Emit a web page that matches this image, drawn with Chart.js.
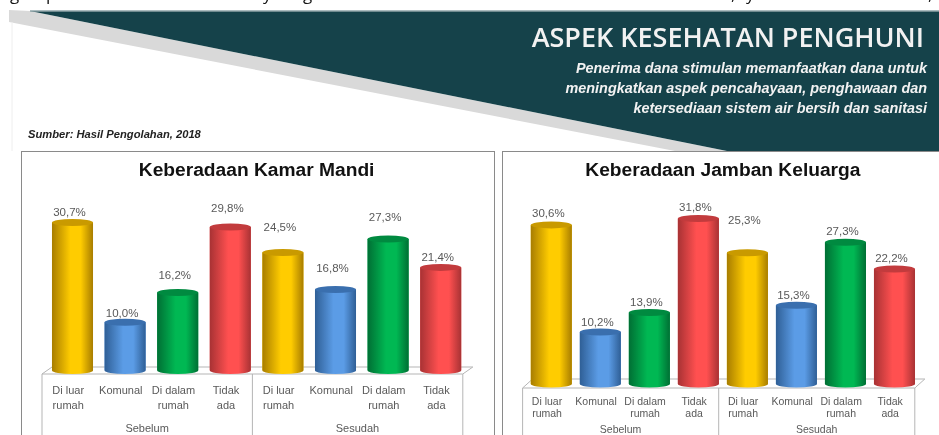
<!DOCTYPE html>
<html>
<head>
<meta charset="utf-8">
<title>Aspek Kesehatan Penghuni</title>
<script src="https://cdn.jsdelivr.net/npm/chart.js@4/dist/chart.umd.min.js"></script>
<style>
    html, body { margin: 0; padding: 0; background: #fff; overflow: hidden; }
    #page { position: relative; width: 939px; height: 435px; overflow: hidden; font-family: "Liberation Sans", Arial, sans-serif; filter: blur(0.35px); }
    #banner { position: absolute; left: 0; top: 0; }
    .cut { position: absolute; top: -18px; font: 17px "Open Sans", sans-serif; color: #111; }
    #heading { position: absolute; right: 15px; top: 18px; font: 600 27px "Open Sans", sans-serif; color: #f2f2f2; white-space: nowrap; }
    #lead { position: absolute; right: 12px; top: 58px; width: 420px; text-align: right; font: italic bold 14.4px/20px "Liberation Sans", sans-serif; color: #f2f2f2; }
    #source { position: absolute; left: 28px; top: 128px; font: italic bold 11.2px "Liberation Sans", sans-serif; color: #222; }
    .panel { position: absolute; top: 151px; height: 300px; box-sizing: border-box; border: 1.5px solid #8a8a8a; background: #fff; }
    canvas { position: absolute; display: block; }
</style>
</head>
<body>
<div id="page">
    <span class="cut" style="left:10px">g</span>
    <span class="cut" style="left:46px">p</span>
    <span class="cut" style="left:263px">y</span>
    <span class="cut" style="left:303px">g</span>
    <span class="cut" style="left:731px">,</span>
    <span class="cut" style="left:746px">y</span>
    <span class="cut" style="left:928px">,</span>

    <svg id="banner" width="939" height="152">
        <polygon points="9,10 30,11 727,151 675,151 9,22" fill="#d9d9d9"></polygon>
        <polygon points="30,11 939,11 939,151 727,151" fill="#15424a"></polygon>
        <line x1="30" y1="11" x2="939" y2="11" stroke="#8fa5a8" stroke-width="1.5"></line>
        <line x1="12" y1="22" x2="12" y2="151" stroke="#eeeeee"></line>
    </svg>
    <div id="heading">ASPEK KESEHATAN PENGHUNI</div>
    <div id="lead">Penerima dana stimulan memanfaatkan dana untuk<br>meningkatkan aspek pencahayaan, penghawaan dan<br>ketersediaan sistem air bersih dan sanitasi</div>
    <div id="source">Sumber: Hasil Pengolahan, 2018</div>

    <div class="panel" style="left:21px;width:474px"></div>
    <div class="panel" style="left:502px;width:460px"></div>
    <canvas id="mandi" width="473" height="284" style="left:21px;top:151px"></canvas>
    <canvas id="jamban" width="440" height="284" style="left:503px;top:151px"></canvas>
</div>
<script>
const categories = [["Di luar", "rumah"], "Komunal", ["Di dalam", "rumah"], ["Tidak", "ada"], ["Di luar", "rumah"], "Komunal", ["Di dalam", "rumah"], ["Tidak", "ada"]];
const periods = ["Sebelum", "Sesudah"];
const kamarMandiValues = [30.7, 10.0, 16.2, 29.8, 24.5, 16.8, 27.3, 21.4];
const jambanValues = [30.6, 10.2, 13.9, 31.8, 25.3, 15.3, 27.3, 22.2];

// the value labels were placed by hand in the original, so each has its own lift
const kamarMandiLift = [10, 8.5, 17, 18.5, 25, 21, 21.5, 10];
const jambanLift = [10.7, 9, 9.5, 11, 32, 9.5, 10.4, 9.7];

const barShades = [
    { edge: "#a87d00", mid: "#ffcc00", cap: "#c99a00" },
    { edge: "#2f5f96", mid: "#5b9ce6", cap: "#3a6fae" },
    { edge: "#006f34", mid: "#00b853", cap: "#008a40" },
    { edge: "#a83234", mid: "#ff5050", cap: "#c23b3d" }
];

const cylinders = {
    id: "cylinders",
    beforeDatasetsDraw(chart, args, opts) {
        const { ctx, chartArea } = chart;
        const base = chart.scales.y.getPixelForValue(0) - opts.sink;
        const front = base + opts.frontDrop;
        const back = base - opts.backRise;
        const left = chartArea.left - 4.2;
        const right = chartArea.right - 4.2;
        const middle = (left + right) / 2;

        ctx.save();
        ctx.strokeStyle = "#b5b5b5";
        ctx.lineWidth = 1;
        ctx.beginPath();
        ctx.moveTo(left, front);
        ctx.lineTo(left + 10, back);
        ctx.lineTo(right + 10, back);
        ctx.lineTo(right, front);
        ctx.closePath();
        [left, middle, right].forEach(x => {
            ctx.moveTo(x, front);
            ctx.lineTo(x, chart.height);
        });
        ctx.stroke();
        ctx.restore();
    },
    afterDatasetsDraw(chart, args, opts) {
        const { ctx } = chart;
        const bars = chart.getDatasetMeta(0).data;

        bars.forEach((bar, i) => {
            const shade = barShades[i % 4];
            const half = bar.width / 2;
            const ry = 3.5;
            const bottom = bar.base - opts.sink;
            const fill = ctx.createLinearGradient(bar.x - half, 0, bar.x + half, 0);
            fill.addColorStop(0, shade.edge);
            fill.addColorStop(0.45, shade.mid);
            fill.addColorStop(0.7, shade.mid);
            fill.addColorStop(1, shade.edge);

            // cover the library's flat bar, which runs a little past the sunk floor
            ctx.save();
            ctx.clearRect(bar.x - half - 1, bottom, bar.width + 2, opts.sink + 1);
            ctx.fillStyle = fill;
            ctx.beginPath();
            ctx.moveTo(bar.x - half, bar.y);
            ctx.lineTo(bar.x - half, bottom);
            ctx.ellipse(bar.x, bottom, half, ry, 0, Math.PI, 0, true);
            ctx.lineTo(bar.x + half, bar.y);
            ctx.closePath();
            ctx.fill();
            ctx.fillStyle = shade.cap;
            ctx.beginPath();
            ctx.ellipse(bar.x, bar.y, half, ry, 0, 0, Math.PI * 2);
            ctx.fill();

            ctx.fillStyle = "#595959";
            ctx.font = "11.5px 'Liberation Sans', sans-serif";
            ctx.textAlign = "center";
            ctx.textBaseline = "middle";
            const text = chart.data.datasets[0].data[i].toFixed(1).replace(".", ",") + "%";
            ctx.fillText(text, bar.x - 3, bar.y - opts.lift[i]);
            ctx.restore();
        });
    }
};

function drawChart(id, values, lift, look) {
    return new Chart(document.getElementById(id), {
        type: "bar",
        data: {
            labels: categories,
            datasets: [{
                data: values,
                backgroundColor: values.map((v, i) => barShades[i % 4].mid),
                barPercentage: 1,
                categoryPercentage: look.barShare
            }]
        },
        options: {
            responsive: false,
            animation: false,
            layout: { padding: { left: look.padLeft, right: look.padRight } },
            plugins: {
                legend: { display: false },
                tooltip: { enabled: false },
                title: {
                    display: true,
                    text: look.title,
                    color: "#111",
                    font: { size: 19.2, weight: "bold", family: "'Liberation Sans', sans-serif", lineHeight: 1.2 },
                    padding: { top: 8, bottom: look.titleGap }
                },
                cylinders: { lift: lift, frontDrop: look.frontDrop, backRise: look.backRise, sink: look.sink }
            },
            scales: {
                y: { display: false, min: 0, max: 36 },
                x: {
                    grid: { display: false, drawTicks: false },
                    border: { display: false },
                    afterFit(scale) { scale.height = look.tickHeight; },
                    ticks: {
                        autoSkip: false,
                        maxRotation: 0,
                        padding: look.tickPad,
                        labelOffset: -4.3,
                        color: "#595959",
                        font: { size: look.tickSize, family: "'Liberation Sans', sans-serif", lineHeight: look.tickLine }
                    }
                },
                period: {
                    type: "category",
                    position: "bottom",
                    labels: periods,
                    grid: { display: false, drawTicks: false },
                    border: { display: false },
                    afterFit(scale) { scale.height = look.periodHeight; },
                    ticks: {
                        padding: look.periodPad,
                        labelOffset: -4.3,
                        color: "#595959",
                        font: { size: look.tickSize, family: "'Liberation Sans', sans-serif" }
                    }
                }
            }
        },
        plugins: [cylinders]
    });
}

drawChart("mandi", kamarMandiValues, kamarMandiLift, {
    title: "Keberadaan Kamar Mandi", barShare: 0.78, padLeft: 25.2, padRight: 27, titleGap: 15,
    tickHeight: 50, tickPad: 12.5, tickSize: 11, tickLine: 1.38, periodHeight: 14.5, periodPad: 2, frontDrop: 3.5, backRise: 3.5, sink: 0
});
drawChart("jamban", jambanValues, jambanLift, {
    title: "Keberadaan Jamban Keluarga", barShare: 0.837, padLeft: 23.8, padRight: 24, titleGap: 14.5,
    tickHeight: 37.5, tickPad: 11.2, tickSize: 10.5, tickLine: 1.1, periodHeight: 12, periodPad: 1, frontDrop: 4, backRise: 5, sink: 1.5
});
</script>
</body>
</html>
